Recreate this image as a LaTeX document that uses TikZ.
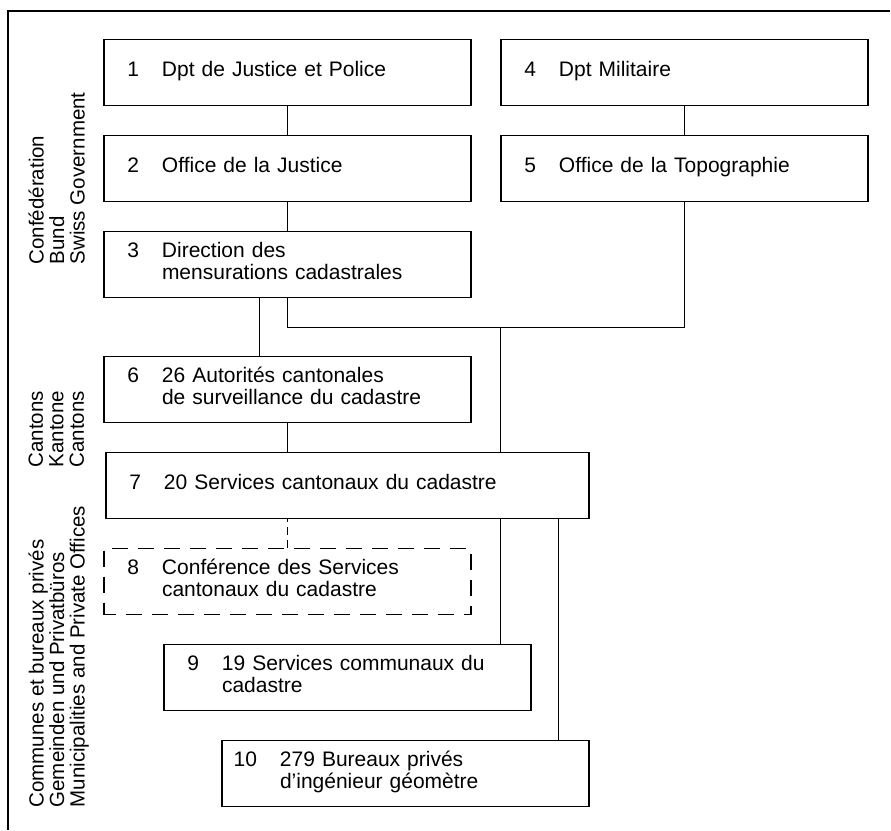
\documentclass[tikz,border=0pt]{standalone}
\usepackage{fontspec}
\setmainfont{Liberation Sans}
\usetikzlibrary{positioning}

\newcommand{\orgentry}[2]{\noindent\makebox[35pt][r]{#1}\hspace{23pt}\begin{tabular}[t]{@{}l@{}}#2\end{tabular}}

\begin{document}
\begin{tikzpicture}[x=1pt, y=1pt, node distance=96pt, line width=1.2pt,
  box/.style = {draw, rectangle, minimum height=66pt, text width=367pt, inner xsep=0pt, inner ysep=0pt, align=left, font=\fontsize{21}{22}\selectfont},
  dashbox/.style = {dash pattern=on 16pt off 10pt, dash phase=4pt},
  side/.style = {rotate=90, anchor=north west, align=left, inner sep=0pt, font=\fontsize{20.5}{20.5}\selectfont},
  link/.style = {draw, line width=1.1pt}]
  \useasboundingbox (0,0) rectangle (891,-830);
  \draw (890,-11) -- (8,-11) -- (8,-830);

  \node[side] (bund) at (28,-265) {Confédération\\Bund\\Swiss Government};
  \node[side] (kanton) at (28,-468) {Cantons\\Kantone\\Cantons};
  \node[side] (gemeinde) at (28,-808) {Communes et bureaux privés\\Gemeinden und Privatbüros\\Municipalities and Private Offices};

  \node[box] (1) at (287.5,-72.5) {\orgentry{1}{Dpt de Justice et Police}};
  \node[box] (2) [below of=1] {\orgentry{2}{Office de la Justice}};
  \node[box] (3) [below of=2] {\orgentry{3}{Direction des\\mensurations cadastrales}};
  \node[box] (4) [node distance=397pt, right of=1] {\orgentry{4}{Dpt Militaire}};
  \node[box] (5) [below of=4] {\orgentry{5}{Office de la Topographie}};
  \node[box] (6) [node distance=125pt, below of=3] {\orgentry{6}{26 Autorités cantonales\\de surveillance du cadastre}};
  \node[box, text width=483pt] (7) [below of=6, xshift=60pt] {\orgentry{7}{20 Services cantonaux du cadastre}};
  \node[box, dashbox] (8) [below of=7, xshift=-60pt] {\orgentry{8}{Conférence des Services\\cantonaux du cadastre}};
  \node[box] (9) [below of=8, xshift=60pt] {\orgentry{9}{19 Services communaux du\\cadastre}};
  \node[box] (10) [below of=9, xshift=58pt] {\orgentry{10}{279 Bureaux privés\\d'ingénieur géomètre}};

  % federal level
  \draw[link] (1) -- (2);
  \draw[link] (2) -- (3);
  \draw[link] (4) -- (5);
  \coordinate (j) at ([yshift=-29pt]3.south);
  \draw[link] (3.south) -- (j) -| (5.south);
  \draw[link] ([xshift=-28pt]3.south) -- ([xshift=-28pt]3.south |- 6.north);

  % cantons and below
  \coordinate (trunk) at ([xshift=337pt]9.north west);
  \draw[link] (trunk |- j) -- (trunk |- 7.north);
  \draw[link] (6.south) -- (6.south |- 7.north);
  \draw[link, dash pattern=on 8pt off 5pt] (8.north) -- (8.north |- 7.south);
  \draw[link] (trunk |- 7.south) -- (trunk);
  \draw[link] ([xshift=337pt]10.north west) -- ([xshift=337pt]10.north west |- 7.south);
\end{tikzpicture}
\end{document}
